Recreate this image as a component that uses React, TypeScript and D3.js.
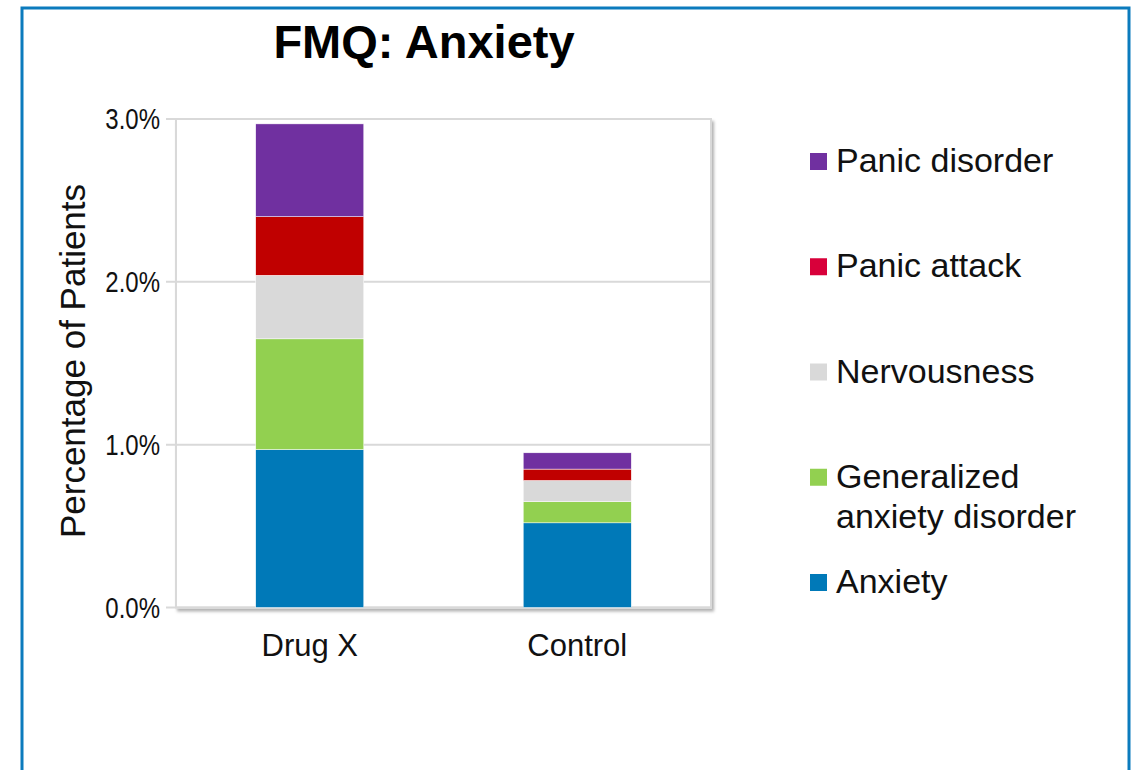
import React from "react";
import * as d3 from "d3";

const categories = ["Drug X", "Control"];
const seriesNames = ["Anxiety", "Generalized anxiety disorder", "Nervousness", "Panic attack", "Panic disorder"];
const anxiety = [0.97, 0.52];
const generalizedAnxiety = [0.68, 0.13];
const nervousness = [0.39, 0.13];
const panicAttack = [0.36, 0.07];
const panicDisorder = [0.57, 0.1];
const yTicks = [0, 1, 2, 3];
const barColors = ["#0079b8", "#92d050", "#d9d9d9", "#c00000", "#7030a0"];
const legendColors = ["#0079b8", "#92d050", "#d9d9d9", "#d8003a", "#7030a0"];
const legendLines = [["Anxiety"], ["Generalized", "anxiety disorder"], ["Nervousness"], ["Panic attack"], ["Panic disorder"]];

const W = 1134;
const H = 770;
const plot = { left: 176, right: 711, top: 119, bottom: 607.5 };
const font = "'Liberation Sans', Arial, sans-serif";

export default function App() {
  const rows = categories.map((c, i) => ({
    cat: c,
    [seriesNames[0]]: anxiety[i],
    [seriesNames[1]]: generalizedAnxiety[i],
    [seriesNames[2]]: nervousness[i],
    [seriesNames[3]]: panicAttack[i],
    [seriesNames[4]]: panicDisorder[i],
  }));
  const stacked = d3.stack<any>().keys(seriesNames)(rows);
  const x = d3.scaleBand().domain(categories).range([plot.left, plot.right]).paddingInner(0.596).paddingOuter(0.298);
  const y = d3.scaleLinear().domain([0, 3]).range([plot.bottom, plot.top]);
  const fmt = d3.format(".1f");

  const legendOrder = d3.range(seriesNames.length).reverse();
  const legendY = d3.scaleLinear().domain([0, 4]).range([172, 593]);

  return (
    <svg width={W} height={H} style={{ position: "absolute", left: 0, top: 0, background: "#fff" }}>
      <defs>
        <filter id="shadow" x="-5%" y="-5%" width="110%" height="110%">
          <feDropShadow dx="2" dy="3" stdDeviation="1.5" floodColor="#000" floodOpacity="0.3" />
        </filter>
      </defs>
      <rect x={0} y={0} width={W} height={H} fill="#fff" />
      <rect x={22} y={8} width={1107} height={800} fill="none" stroke="#0b7bbd" strokeWidth={3} />
      <text x={424} y={58} textAnchor="middle" fontFamily={font} fontWeight="bold" fontSize={47} fill="#000">
        FMQ: Anxiety
      </text>
      {/* plot frame */}
      <rect x={plot.left} y={plot.top} width={plot.right - plot.left} height={plot.bottom - plot.top} fill="#fff" stroke="#d9d9d9" strokeWidth={2} filter="url(#shadow)" />
      {yTicks.map((t) => (
        <g key={t}>
          <line x1={166} x2={plot.right} y1={y(t)} y2={y(t)} stroke="#d9d9d9" strokeWidth={2} />
          <text x={160} y={y(t) + 10.5} textAnchor="end" fontFamily={font} fontSize={30} fill="#111" transform={`translate(160,0) scale(0.8,1) translate(-160,0)`}>
            {fmt(t)}%
          </text>
        </g>
      ))}
      {stacked.map((s, si) =>
        s.map((d, ci) => (
          <rect key={`${si}-${ci}`} x={x(categories[ci])} y={y(d[1])} width={x.bandwidth()} height={y(d[0]) - y(d[1])} fill={barColors[si]} stroke="#fff" strokeWidth={0.5} />
        ))
      )}
      {categories.map((c) => (
        <text key={c} x={(x(c) as number) + x.bandwidth() / 2} y={656} textAnchor="middle" fontFamily={font} fontSize={31} fill="#111">
          {c}
        </text>
      ))}
      <text transform={`translate(85,361) rotate(-90)`} textAnchor="middle" fontFamily={font} fontSize={35} fill="#111">
        Percentage of Patients
      </text>
      {legendOrder.map((si, k) => (
        <g key={si}>
          <rect x={810} y={legendY(k) - 19} width={17} height={17} fill={legendColors[si]} />
          {legendLines[si].map((ln, li) => (
            <text key={li} x={836} y={legendY(k) + li * 40} fontFamily={font} fontSize={34} fill="#111">
              {ln}
            </text>
          ))}
        </g>
      ))}
    </svg>
  );
}
